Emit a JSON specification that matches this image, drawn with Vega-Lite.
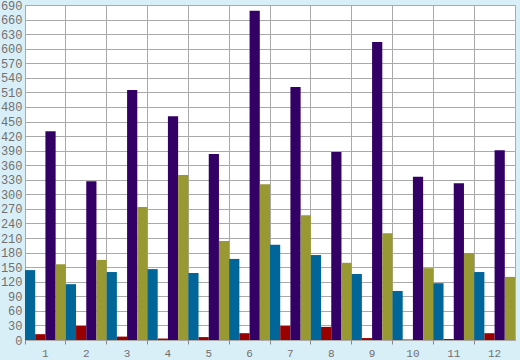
{
  "$schema": "https://vega.github.io/schema/vega-lite/v6.json",
  "width": 490,
  "height": 335,
  "autosize": {"type": "none"},
  "padding": {"left": 25, "top": 5, "right": 5, "bottom": 20},
  "background": "#d9eff7",
  "config": {
    "view": {"fill": "white", "stroke": "#aaaaaa", "strokeWidth": 1},
    "axis": {"labelFont": "Liberation Mono", "labelFontSize": 12, "labelColor": "#707070", "gridColor": "#aaaaaa", "gridOpacity": 1, "gridWidth": 1}
  },
  "data": {
    "values": [
      {"g": "1", "s": "A", "v": 144}, {"g": "1", "s": "B", "v": 12}, {"g": "1", "s": "C", "v": 430}, {"g": "1", "s": "D", "v": 156},
      {"g": "2", "s": "A", "v": 115}, {"g": "2", "s": "B", "v": 29}, {"g": "2", "s": "C", "v": 327}, {"g": "2", "s": "D", "v": 165},
      {"g": "3", "s": "A", "v": 140}, {"g": "3", "s": "B", "v": 7}, {"g": "3", "s": "C", "v": 515}, {"g": "3", "s": "D", "v": 274},
      {"g": "4", "s": "A", "v": 146}, {"g": "4", "s": "B", "v": 3}, {"g": "4", "s": "C", "v": 461}, {"g": "4", "s": "D", "v": 340},
      {"g": "5", "s": "A", "v": 138}, {"g": "5", "s": "B", "v": 6}, {"g": "5", "s": "C", "v": 383}, {"g": "5", "s": "D", "v": 204},
      {"g": "6", "s": "A", "v": 167}, {"g": "6", "s": "B", "v": 14}, {"g": "6", "s": "C", "v": 678}, {"g": "6", "s": "D", "v": 321},
      {"g": "7", "s": "A", "v": 196}, {"g": "7", "s": "B", "v": 29}, {"g": "7", "s": "C", "v": 521}, {"g": "7", "s": "D", "v": 257},
      {"g": "8", "s": "A", "v": 175}, {"g": "8", "s": "B", "v": 27}, {"g": "8", "s": "C", "v": 387}, {"g": "8", "s": "D", "v": 159},
      {"g": "9", "s": "A", "v": 136}, {"g": "9", "s": "B", "v": 4}, {"g": "9", "s": "C", "v": 614}, {"g": "9", "s": "D", "v": 220},
      {"g": "10", "s": "A", "v": 101}, {"g": "10", "s": "B", "v": 1}, {"g": "10", "s": "C", "v": 336}, {"g": "10", "s": "D", "v": 148},
      {"g": "11", "s": "A", "v": 117}, {"g": "11", "s": "B", "v": 2}, {"g": "11", "s": "C", "v": 323}, {"g": "11", "s": "D", "v": 179},
      {"g": "12", "s": "A", "v": 140}, {"g": "12", "s": "B", "v": 14}, {"g": "12", "s": "C", "v": 391}, {"g": "12", "s": "D", "v": 130}
    ]
  },
  "mark": {"type": "bar", "stroke": null},
  "encoding": {
    "x": {
      "field": "g", "type": "nominal", "sort": null, "title": null,
      "scale": {"paddingInner": 0, "paddingOuter": 0},
      "axis": {"bandPosition": 0, "grid": true, "ticks": true, "tickSize": 4, "tickWidth": 1, "tickColor": "#888888", "domain": false, "labelAngle": 0, "labelOffset": 0, "labelPadding": 3, "labelFontSize": 11}
    },
    "xOffset": {"field": "s", "type": "nominal", "sort": ["A", "B", "C", "D"], "scale": {"paddingInner": 0, "paddingOuter": 0}},
    "y": {
      "field": "v", "type": "quantitative", "title": null,
      "scale": {"domain": [0, 690], "nice": false, "zero": true},
      "axis": {"values": [0,30,60,90,120,150,180,210,240,270,300,330,360,390,420,450,480,510,540,570,600,630,660,690], "ticks": false, "domain": false, "labelPadding": 3, "grid": true}
    },
    "color": {
      "field": "s", "type": "nominal", "legend": null,
      "scale": {"domain": ["A", "B", "C", "D"], "range": ["#006699", "#990000", "#330066", "#999933"]}
    }
  }
}
